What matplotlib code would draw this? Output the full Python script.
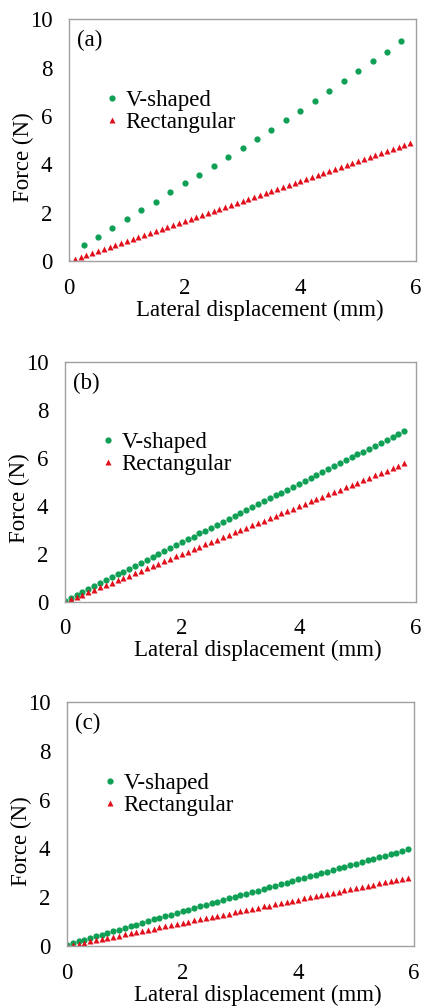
import matplotlib.pyplot as plt

plt.rcParams['font.family'] = ['Liberation Serif', 'DejaVu Serif']

# displacement (mm)
x_fine = [0.0, 0.1, 0.2, 0.3, 0.4, 0.5, 0.6, 0.7, 0.8, 0.9,
          1.0, 1.1, 1.2, 1.3, 1.4, 1.5, 1.6, 1.7, 1.8, 1.9,
          2.0, 2.1, 2.2, 2.3, 2.4, 2.5, 2.6, 2.7, 2.8, 2.9,
          3.0, 3.1, 3.2, 3.3, 3.4, 3.5, 3.6, 3.7, 3.8, 3.9,
          4.0, 4.1, 4.2, 4.3, 4.4, 4.5, 4.6, 4.7, 4.8, 4.9,
          5.0, 5.1, 5.2, 5.3, 5.4, 5.5, 5.6, 5.7, 5.8, 5.9]
x_coarse = [0.25, 0.5, 0.75, 1.0, 1.25, 1.5, 1.75, 2.0, 2.25, 2.5, 2.75, 3.0,
            3.25, 3.5, 3.75, 4.0, 4.25, 4.5, 4.75, 5.0, 5.25, 5.5, 5.75]

# (a)
a_v = [0.66, 1.01, 1.38, 1.75, 2.11, 2.46, 2.84, 3.21, 3.57, 3.94, 4.30, 4.68,
       5.05, 5.43, 5.83, 6.22, 6.63, 7.05, 7.45, 7.85, 8.25, 8.66, 9.08]
a_r = [0.00, 0.08, 0.17, 0.25, 0.33, 0.42, 0.50, 0.58, 0.66, 0.75,
       0.83, 0.91, 1.00, 1.08, 1.16, 1.25, 1.33, 1.41, 1.49, 1.58,
       1.66, 1.74, 1.83, 1.91, 1.99, 2.08, 2.16, 2.24, 2.32, 2.41,
       2.49, 2.57, 2.66, 2.74, 2.82, 2.91, 2.99, 3.07, 3.15, 3.24,
       3.32, 3.40, 3.49, 3.57, 3.65, 3.74, 3.82, 3.90, 3.98, 4.07,
       4.15, 4.23, 4.32, 4.40, 4.48, 4.57, 4.65, 4.73, 4.81, 4.90]

# (b)
b_v = [0.04, 0.16, 0.28, 0.41, 0.53, 0.65, 0.77, 0.89, 1.02, 1.14,
       1.26, 1.38, 1.50, 1.63, 1.75, 1.87, 1.99, 2.11, 2.24, 2.36,
       2.48, 2.60, 2.72, 2.85, 2.97, 3.09, 3.21, 3.33, 3.46, 3.58,
       3.70, 3.82, 3.94, 4.07, 4.19, 4.31, 4.43, 4.55, 4.68, 4.80,
       4.92, 5.04, 5.16, 5.29, 5.41, 5.53, 5.65, 5.77, 5.90, 6.02,
       6.14, 6.26, 6.38, 6.51, 6.63, 6.75, 6.87, 6.99, 7.12]
b_r = [0.00, 0.10, 0.20, 0.30, 0.40, 0.50, 0.60, 0.70, 0.80, 0.90,
       0.99, 1.09, 1.19, 1.29, 1.39, 1.49, 1.59, 1.69, 1.79, 1.89,
       1.99, 2.09, 2.19, 2.29, 2.39, 2.49, 2.59, 2.69, 2.79, 2.89,
       2.98, 3.08, 3.18, 3.28, 3.38, 3.48, 3.58, 3.68, 3.78, 3.88,
       3.98, 4.08, 4.18, 4.28, 4.38, 4.48, 4.58, 4.68, 4.78, 4.88,
       4.97, 5.07, 5.17, 5.27, 5.37, 5.47, 5.57, 5.67, 5.77]

# (c)
c_v = [0.05, 0.12, 0.19, 0.26, 0.33, 0.40, 0.46, 0.53, 0.60, 0.67,
       0.74, 0.81, 0.88, 0.95, 1.02, 1.09, 1.15, 1.22, 1.29, 1.36,
       1.43, 1.49, 1.56, 1.62, 1.69, 1.75, 1.82, 1.88, 1.95, 2.01,
       2.08, 2.14, 2.21, 2.27, 2.34, 2.40, 2.47, 2.53, 2.60, 2.66,
       2.73, 2.79, 2.86, 2.92, 2.99, 3.05, 3.12, 3.18, 3.25, 3.31,
       3.38, 3.44, 3.51, 3.57, 3.64, 3.70, 3.77, 3.83, 3.90, 3.96]
c_r = [0.00, 0.05, 0.10, 0.14, 0.19, 0.24, 0.29, 0.33, 0.38, 0.43,
       0.48, 0.52, 0.57, 0.62, 0.67, 0.71, 0.76, 0.81, 0.86, 0.90,
       0.95, 1.00, 1.05, 1.09, 1.14, 1.19, 1.24, 1.28, 1.33, 1.38,
       1.43, 1.47, 1.52, 1.57, 1.62, 1.66, 1.71, 1.76, 1.81, 1.85,
       1.90, 1.95, 2.00, 2.04, 2.09, 2.14, 2.19, 2.23, 2.28, 2.33,
       2.38, 2.42, 2.47, 2.52, 2.57, 2.61, 2.66, 2.71, 2.76, 2.80]

green = '#0fa055'
red = '#e0101c'

fig = plt.figure(figsize=(4.24, 10.08), dpi=100)
rects = [[0.163, 0.741, 0.818, 0.240],
         [0.153, 0.403, 0.828, 0.238],
         [0.158, 0.0615, 0.818, 0.242]]
panels = [('(a)', x_coarse, a_v, x_fine, a_r),
          ('(b)', x_fine[:59], b_v, x_fine[:59], b_r),
          ('(c)', x_fine, c_v, x_fine, c_r)]

fs = 16.5
for rect, (tag, xv, yv, xr, yr) in zip(rects, panels):
    ax = fig.add_axes(rect)
    ax.plot(xv, yv, 'o', color=green, ms=4.5, mec='none', label='V-shaped')
    ax.plot(xr, yr, '^', color=red, ms=4.2, mec='none', label='Rectangular')
    ax.set_xlim(0, 6)
    ax.set_ylim(0, 10)
    ax.set_xticks([0, 2, 4, 6])
    ax.set_yticks([0, 2, 4, 6, 8, 10])
    ax.tick_params(length=0, labelsize=fs, pad=12)
    for s in ax.spines.values():
        s.set_color('#a0a0a0')
        s.set_linewidth(1.0)
    ax.set_xlabel('Lateral displacement (mm)', fontsize=fs)
    ax.set_ylabel('Force (N)', fontsize=fs)
    ax.xaxis.set_label_coords(0.55, -0.16)
    ax.yaxis.set_label_coords(-0.10, 0.43)
    ax.text(0.022, 0.955, tag, transform=ax.transAxes, fontsize=fs,
            ha='left', va='top')
    ax.legend(loc='upper left', bbox_to_anchor=(0.057, 0.775), frameon=False,
              fontsize=fs, handlelength=0.6, handletextpad=0.3,
              labelspacing=0.05, borderpad=0.2, markerscale=1.0)

plt.savefig('out.png', dpi=100)
